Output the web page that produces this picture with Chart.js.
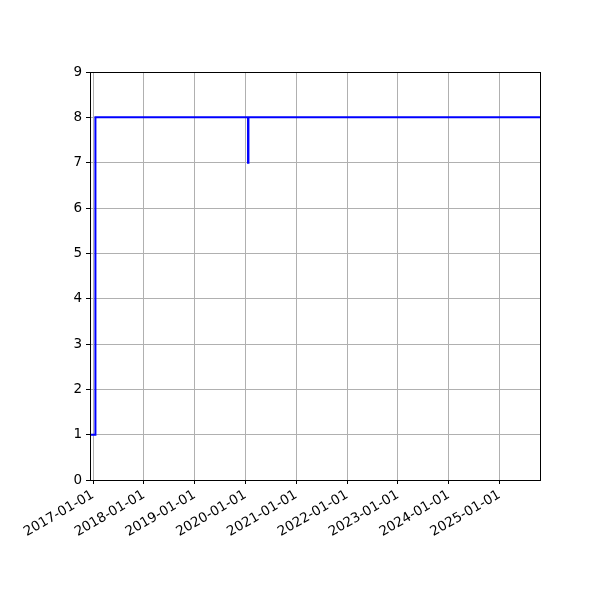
<!DOCTYPE html>
<html>
<head>
<meta charset="utf-8">
<script src="https://cdn.jsdelivr.net/npm/chart.js@4"></script>
<style>
  html, body { margin: 0; padding: 0; background: #fff; }
  #wrap { width: 600px; height: 600px; }
</style>
</head>
<body>
<div id="wrap"><canvas id="grafica" width="600" height="600"></canvas></div>
<script>
// fechas de cada cambio y su valor (escalonado)
const fechas = ['2016-12-10', '2017-01-18', '2020-01-20', '2020-01-23', '2025-10-19'];
const valores = [1, 8, 7, 8, 8];
const anios = [2017, 2018, 2019, 2020, 2021, 2022, 2023, 2024, 2025];
const yTicks = [0, 1, 2, 3, 4, 5, 6, 7, 8, 9];

function ms(f) {
    let p = f.split('-');
    return Date.UTC(+p[0], +p[1] - 1, +p[2]);
}

let puntos = [];
for (let i = 0; i < fechas.length; i++) {
    puntos.push({ x: ms(fechas[i]), y: valores[i] });
}

// marco negro alrededor del area (como matplotlib)
const marco = {
    id: 'marco',
    afterDatasetsDraw(chart) {
        let a = chart.chartArea;
        let ctx = chart.ctx;
        ctx.save();
        ctx.strokeStyle = '#000';
        ctx.lineWidth = 1;
        ctx.strokeRect(Math.round(a.left) + 0.5, Math.round(a.top) + 0.5, Math.round(a.right - a.left), Math.round(a.bottom - a.top));
        ctx.restore();
    }
};

Chart.defaults.font.family = '"DejaVu Sans", sans-serif';
Chart.defaults.font.size = 13.5;
Chart.defaults.color = '#000';

var ctx = document.getElementById('grafica').getContext('2d');
var graph = new Chart(ctx, {
    type: 'line',
    data: {
        datasets: [{
            data: puntos,
            borderColor: '#0000ff',
            borderWidth: 2,
            stepped: true,
            pointRadius: 0,
            fill: false
        }]
    },
    options: {
        responsive: false,
        animation: false,
        layout: { padding: { left: 0, top: 72, right: 60, bottom: 0 } },
        plugins: {
            legend: { display: false },
            tooltip: { enabled: false }
        },
        scales: {
            x: {
                type: 'linear',
                min: ms(fechas[0]),
                max: ms(fechas[fechas.length - 1]),
                afterBuildTicks: function(scale) {
                    scale.ticks = anios.map(a => ({ value: Date.UTC(a, 0, 1) }));
                },
                afterFit: function(scale) { scale.height = 120; },
                ticks: {
                    autoSkip: false,
                    minRotation: 30,
                    maxRotation: 30,
                    padding: 3,
                    callback: function(v) {
                        let d = new Date(v);
                        let m = String(d.getUTCMonth() + 1).padStart(2, '0');
                        let dd = String(d.getUTCDate()).padStart(2, '0');
                        return d.getUTCFullYear() + '-' + m + '-' + dd;
                    }
                },
                grid: { color: '#b0b0b0', lineWidth: 1, tickColor: '#000', tickLength: 4 },
                border: { display: false }
            },
            y: {
                min: 0,
                max: 9,
                afterBuildTicks: function(scale) {
                    scale.ticks = yTicks.map(v => ({ value: v }));
                },
                afterFit: function(scale) { scale.width = 90; },
                ticks: { padding: 4 },
                grid: { color: '#b0b0b0', lineWidth: 1, tickColor: '#000', tickLength: 4 },
                border: { display: false }
            }
        }
    },
    plugins: [marco]
});
</script>
</body>
</html>
